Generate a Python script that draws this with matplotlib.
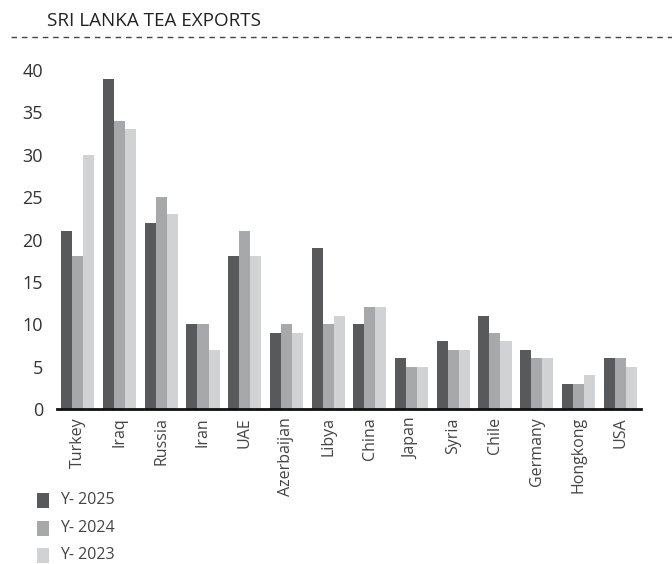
import numpy as np
import matplotlib
matplotlib.use("Agg")
import matplotlib.pyplot as plt
from matplotlib.lines import Line2D
from matplotlib.patches import Rectangle

plt.rcParams['font.family'] = ['Open Sans', 'DejaVu Sans']

countries = ["Turkey", "Iraq", "Russia", "Iran", "UAE", "Azerbaijan", "Libya",
             "China", "Japan", "Syria", "Chile", "Germany", "Hongkong", "USA"]
y2025 = [21, 39, 22, 10, 18, 9, 19, 10, 6, 8, 11, 7, 3, 6]
y2024 = [18, 34, 25, 10, 21, 10, 10, 12, 5, 7, 9, 6, 3, 6]
y2023 = [30, 33, 23, 7, 18, 9, 11, 12, 5, 7, 8, 6, 4, 5]
series_labels = ["Y- 2025", "Y- 2024", "Y- 2023"]
colors = ["#58595b", "#a7a8aa", "#d1d2d4"]
yticks = [0, 5, 10, 15, 20, 25, 30, 35, 40]

W, H = 672, 564
fig = plt.figure(figsize=(W / 100, H / 100), dpi=100)
ax = fig.add_axes([0.0848, 0.2748, 0.869, 0.601])

x = np.arange(len(countries))
w = 0.265
for i, vals in enumerate([y2025, y2024, y2023]):
    ax.bar(x + (i - 1) * w, vals, width=w, color=colors[i], linewidth=0, zorder=2)

ax.set_xlim(-0.5, 13.5)
ax.set_ylim(0, 40)
ax.set_yticks(yticks)
ax.set_yticklabels([str(t) for t in yticks], fontsize=13, color="#333333")
ax.set_xticks(x)
ax.set_xticklabels(countries, rotation=90, fontsize=11.5, color="#444444")
ax.tick_params(length=0, pad=6)
ax.tick_params(axis="y", pad=10)
for s in ["top", "right", "left"]:
    ax.spines[s].set_visible(False)
ax.spines["bottom"].set_linewidth(2)
ax.spines["bottom"].set_color("#111111")
ax.spines["bottom"].set_zorder(3)

# title and dashed rule
fig.text(47 / W, 1 - 21 / H, "SRI LANKA TEA EXPORTS", fontsize=13.6,
         color="#222222", va="center", ha="left")
fig.add_artist(Line2D([11 / W, 1.0], [1 - 37 / H] * 2, color="#444444",
                      linewidth=1, linestyle=(0, (4, 3.5))))

# legend: squares + labels stacked under the axis
leg_y = [500, 528, 555]
for c, lab, yy in zip(colors, series_labels, leg_y):
    fig.add_artist(Rectangle((37 / W, 1 - (yy + 8) / H), 12 / W, 15 / H,
                             facecolor=c, edgecolor="none", transform=fig.transFigure))
    fig.text(60 / W, 1 - yy / H, lab, fontsize=11.5, color="#444444",
             va="center", ha="left")

fig.savefig("out.png", dpi=100)
